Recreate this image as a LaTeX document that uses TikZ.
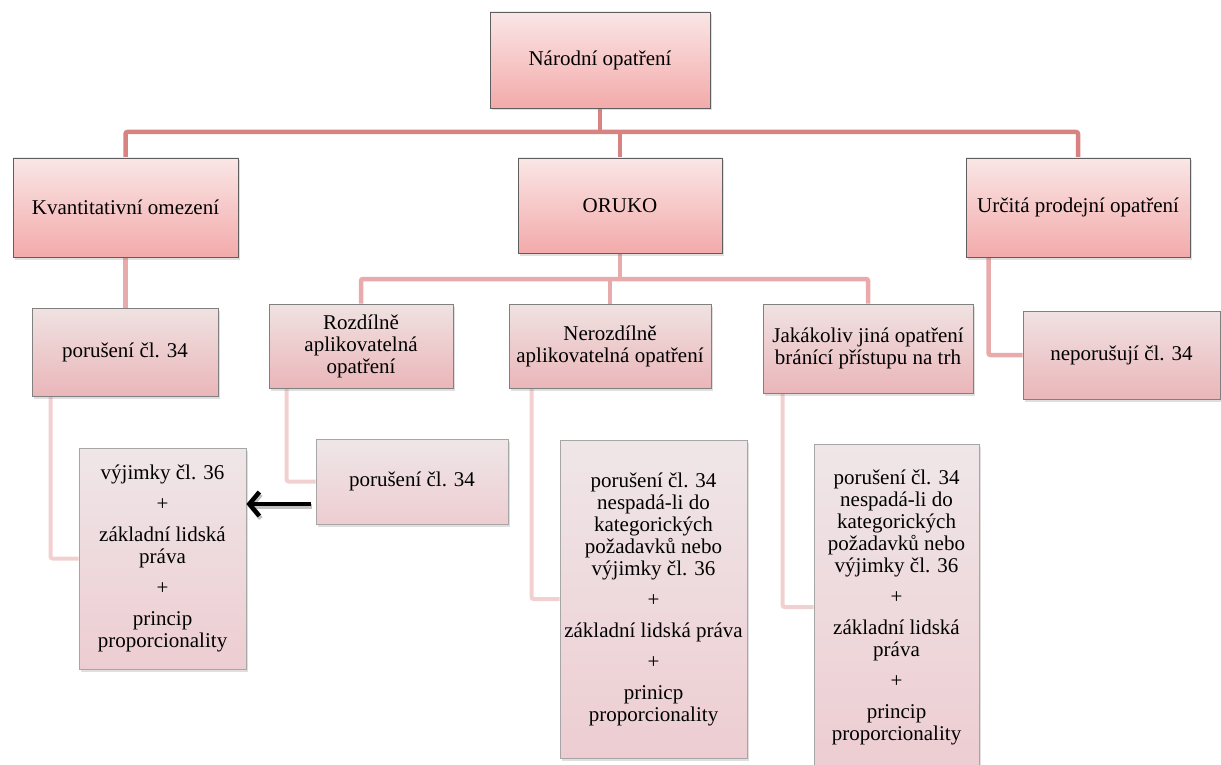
\documentclass[tikz,border=0pt]{standalone}
\usepackage{fontspec}
\setmainfont{LiberationSerif}[Extension=.ttf, UprightFont=*-Regular, BoldFont=*-Bold, ItalicFont=*-Italic, BoldItalicFont=*-BoldItalic]
\usetikzlibrary{shadows,arrows.meta,backgrounds}
\definecolor{conA}{HTML}{D98282}
\definecolor{conB}{HTML}{E8AAAA}
\definecolor{conC}{HTML}{F3D0D0}
\definecolor{topA}{HTML}{FAE6E6}
\definecolor{botA}{HTML}{F3AAAA}
\definecolor{topB}{HTML}{F0E2E2}
\definecolor{botB}{HTML}{EAB6B9}
\definecolor{topC}{HTML}{EFE6E8}
\definecolor{botC}{HTML}{EDCDD1}
\definecolor{edgeA}{HTML}{5E5E5E}
\definecolor{edgeB}{HTML}{808080}
\definecolor{edgeC}{HTML}{A6A6A6}
\begin{document}
\begin{tikzpicture}[x=1pt,y=-1pt,
  box/.style={line width=0.9pt, inner sep=0pt, align=center,
    font=\fontsize{21}{22}\selectfont,
    drop shadow={shadow xshift=1.5pt, shadow yshift=-2.5pt, opacity=0.25}},
  lvA/.style={box, draw=edgeA, top color=topA, bottom color=botA},
  lvB/.style={box, draw=edgeB, top color=topB, bottom color=botB},
  lvC/.style={box, draw=edgeC, top color=topC, bottom color=botC},
  sz/.style 2 args={minimum width=#1pt, minimum height=#2pt},
  cA/.style={draw=conA, line width=4.5pt, rounded corners=2pt},
  cB/.style={draw=conB, line width=4.5pt, rounded corners=2pt},
  cC/.style={draw=conC, line width=4pt, rounded corners=2pt},
  arr/.style={line width=4.5pt, -{Straight Barb[length=10pt,width=24pt]}}
]
\useasboundingbox (0,0) rectangle (1221,765);

\coordinate (b1) at (0,132);
\coordinate (b2) at (0,279);

\path
  node[lvA, sz={220}{96}]  (nar)   at (600,60)     {Národní opatření}
  node[lvA, sz={225}{99}]  (kvant) at (125.5,207.5){Kvantitativní omezení}
  node[lvA, sz={204}{95}]  (oruko) at (620,205.5)  {ORUKO}
  node[lvA, sz={224}{99}]  (urc)   at (1078,207.5) {Určitá prodejní opatření}
  node[lvB, sz={186}{88}]  (por1)  at (125,352)    {porušení čl. 34}
  node[lvB, sz={184}{84}]  (roz)   at (361,346)    {Rozdílně\\aplikovatelná\\opatření}
  node[lvB, sz={202}{84}]  (neroz) at (610,346)    {Nerozdílně\\aplikovatelná opatření}
  node[lvB, sz={210}{89}]  (jak)   at (868,348.5)  {Jakákoliv jiná opatření\\bránící přístupu na trh}
  node[lvB, sz={197}{88}]  (nep)   at (1121.5,355) {neporušují čl. 34}
  node[lvC, sz={167}{221}] (vyj)   at (162.5,558.5){výjimky čl. 36\\[9pt]+\\[9pt]základní lidská\\práva\\[9pt]+\\[9pt]princip\\proporcionality}
  node[lvC, sz={192}{85}]  (por2)  at (412,481.5)  {porušení čl. 34}
  node[lvC, sz={187}{318}] (bxc)   at (653.5,599)  {porušení čl. 34\\nespadá-li do\\kategorických\\požadavků nebo\\výjimky čl. 36\\[9pt]+\\[9pt]základní lidská práva\\[9pt]+\\[9pt]prinicp\\proporcionality}
  node[lvC, sz={165}{326}] (bxd)   at (896.5,607)  {porušení čl. 34\\nespadá-li do\\kategorických\\požadavků nebo\\výjimky čl. 36\\[9pt]+\\[9pt]základní lidská\\práva\\[9pt]+\\[9pt]princip\\proporcionality};

\begin{scope}[on background layer]
  % level 1
  \draw[cA] (kvant.north) |- (b1 -| urc.north) -- (urc.north);
  \draw[cA] (nar.south) -- (nar.south |- b1);
  \draw[cA] (oruko.north) -- (oruko.north |- b1);
  % level 2
  \draw[cB] (roz.north) |- (b2 -| jak.north) -- (jak.north);
  \draw[cB] (oruko.south) -- (oruko.south |- b2);
  \draw[cB] (neroz.north) -- (neroz.north |- b2);
  \draw[cB] (kvant.south) -- (kvant.south |- por1.north);
  \draw[cB] ([xshift=23pt]urc.south west) |- (nep.west);
  % level 3
  \draw[cC] ([xshift=19pt]por1.south west) |- (vyj.west);
  \draw[cC] ([xshift=18pt]roz.south west) |- (por2.west);
  \draw[cC] ([xshift=23pt]neroz.south west) |- (bxc.west);
  \draw[cC] ([xshift=20pt]jak.south west) |- (bxd.west);
\end{scope}

% arrow from second "porušení čl. 34" to the exceptions box
\draw[arr, draw=gray!60, opacity=0.8] ([shift={(-3.5pt,-25pt)}]por2.west) -- ([shift={(1.5pt,-25pt)}]por2.west -| vyj.east);
\draw[arr] ([shift={(-5pt,-22.5pt)}]por2.west) -- ([yshift=-22.5pt]por2.west -| vyj.east);
\end{tikzpicture}
\end{document}
